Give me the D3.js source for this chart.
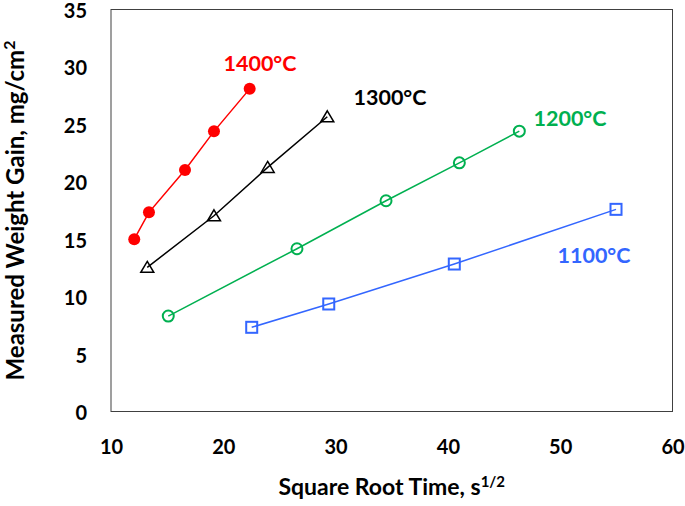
<!DOCTYPE html>
<html lang="en">
<head>
<meta charset="UTF-8" />
<script src="https://d3js.org/d3.v7.min.js"></script>
<style>
  body { margin: 0; background: #fff; }
  text { font-family: Lato, "Open Sans", sans-serif; font-weight: bold; }
</style>
<title>Weight Gain vs Square Root Time</title>
</head>
<body>
<svg id="chart"></svg>
<script>
// values
const xTicks = [10, 20, 30, 40, 50, 60];
const yTicks = [0, 5, 10, 15, 20, 25, 30, 35];

const t1400x = [12.07, 13.38, 16.59, 19.17, 22.35];
const t1400y = [15.0, 17.34, 21.02, 24.39, 28.09];
const t1300x = [13.23, 19.17, 23.95, 29.26];
const t1300y = [12.55, 17.04, 21.25, 25.66];
const t1200x = [15.10, 26.56, 34.49, 41.02, 46.36];
const t1200y = [8.31, 14.17, 18.35, 21.65, 24.41];
const t1100x = [22.53, 29.39, 40.57, 54.97];
const t1100y = [7.33, 9.36, 12.84, 17.60];

const series = [
  { name: "1400°C", xs: t1400x, ys: t1400y, color: "#ff0000", marker: "dot", lx: 260, ly: 63 },
  { name: "1300°C", xs: t1300x, ys: t1300y, color: "#000000", marker: "triangle", lx: 390, ly: 97 },
  { name: "1200°C", xs: t1200x, ys: t1200y, color: "#00b050", marker: "circle", lx: 570, ly: 118 },
  { name: "1100°C", xs: t1100x, ys: t1100y, color: "#3366ff", marker: "square", lx: 594, ly: 255 }
];

const W = 685, H = 506;
const margin = { top: 9.5, right: 12.5, bottom: 94.5, left: 111 };
const width = W - margin.left - margin.right;
const height = H - margin.top - margin.bottom;

const svg = d3.select("#chart").attr("width", W).attr("height", H);
const g = svg.append("g").attr("transform", `translate(${margin.left},${margin.top})`);

const x = d3.scaleLinear().domain([10, 60]).range([0, width]);
const y = d3.scaleLinear().domain([0, 35]).range([height, 0]);

// plot frame
g.append("rect")
  .attr("width", width).attr("height", height)
  .attr("fill", "none").attr("stroke", "#404040").attr("stroke-width", 1);

// axes (labels only, no tick marks)
const xAxis = g.append("g")
  .attr("transform", `translate(0,${height})`)
  .call(d3.axisBottom(x).tickValues(xTicks).tickSize(0).tickPadding(28));
const yAxis = g.append("g")
  .call(d3.axisLeft(y).tickValues(yTicks).tickSize(0).tickPadding(24));
[xAxis, yAxis].forEach(a => {
  a.select(".domain").remove();
  a.selectAll("text").attr("font-size", 20).attr("font-family", "Lato").attr("font-weight", "bold").attr("fill", "#000");
});
yAxis.selectAll("text").attr("dy", "0.4em");

// axis titles
svg.append("text")
  .attr("x", margin.left + width / 2).attr("y", 495)
  .attr("text-anchor", "middle").attr("font-size", 23)
  .html('Square Root Time, s<tspan dy="-8" font-size="15">1/2</tspan>');
svg.append("text")
  .attr("transform", `translate(24,${margin.top + height / 2}) rotate(-90)`)
  .attr("text-anchor", "middle").attr("font-size", 24)
  .html('Measured Weight Gain, mg/cm<tspan dy="-9" font-size="16">2</tspan>');

const line = d3.line().x(d => x(d[0])).y(d => y(d[1]));

series.forEach(s => {
  const pts = s.xs.map((v, i) => [v, s.ys[i]]);
  g.append("path").datum(pts)
    .attr("d", line).attr("fill", "none")
    .attr("stroke", s.color).attr("stroke-width", 1.5);

  const m = g.append("g").selectAll("path").data(pts).enter();
  if (s.marker === "dot") {
    m.append("circle").attr("cx", d => x(d[0])).attr("cy", d => y(d[1]))
      .attr("r", 6).attr("fill", s.color);
  } else if (s.marker === "circle") {
    m.append("circle").attr("cx", d => x(d[0])).attr("cy", d => y(d[1]))
      .attr("r", 5.5).attr("fill", "none").attr("stroke", s.color).attr("stroke-width", 2);
  } else if (s.marker === "square") {
    m.append("rect").attr("x", d => x(d[0]) - 5.5).attr("y", d => y(d[1]) - 5.5)
      .attr("width", 11).attr("height", 11)
      .attr("fill", "none").attr("stroke", s.color).attr("stroke-width", 2);
  } else {
    m.append("path")
      .attr("transform", d => `translate(${x(d[0])},${y(d[1])})`)
      .attr("d", "M0,-6L6.5,5L-6.5,5Z")
      .attr("fill", "none").attr("stroke", s.color).attr("stroke-width", 1.5);
  }

  svg.append("text")
    .attr("x", s.lx).attr("y", s.ly)
    .attr("text-anchor", "middle").attr("dominant-baseline", "central")
    .attr("font-size", 21.5).attr("fill", s.color)
    .text(s.name);
});
</script>
</body>
</html>
